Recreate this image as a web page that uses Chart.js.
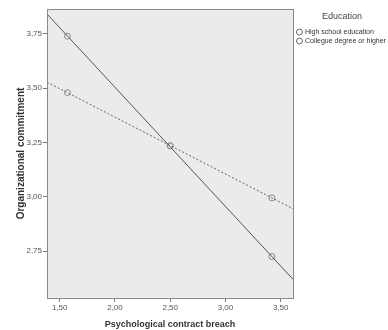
<!DOCTYPE html>
<html>
<head>
<meta charset="utf-8">
<script src="https://cdn.jsdelivr.net/npm/chart.js@4.4.0/dist/chart.umd.min.js"></script>
<style>
  html, body { margin: 0; padding: 0; background: #fff; }
  #wrap { width: 388px; height: 330px; }
</style>
</head>
<body>
<div id="wrap"><canvas id="myChart" width="388" height="330"></canvas></div>
<script>
// values
const groups = ['High school education', 'Collegue degree or higher'];
const markerX = [1.57, 2.50, 3.42];
const highSchool = [3.74, 3.235, 2.725];
const college = [3.48, 3.235, 2.995];
// fit line ends at the plot edges
const lineX = [1.385, 3.611];
const highSchoolLine = [3.842, 2.62];
const collegeLine = [3.528, 2.945];
const xTicks = [1.5, 2.0, 2.5, 3.0, 3.5];
const yTicks = [2.75, 3.0, 3.25, 3.5, 3.75];

function pts(xs, ys) {
    return xs.map((x, i) => ({ x: x, y: ys[i] }));
}

function fmt(v) {
    return v.toFixed(2).replace('.', ',');
}

// grey plot background, frame and the legend on the right
const plotFrame = {
    id: 'plotFrame',
    beforeDraw(chart) {
        const a = chart.chartArea;
        const ctx = chart.ctx;
        ctx.save();
        ctx.fillStyle = '#ebebeb';
        ctx.fillRect(a.left, a.top, a.right - a.left, a.bottom - a.top);
        ctx.restore();
    },
    afterDraw(chart) {
        const a = chart.chartArea;
        const ctx = chart.ctx;
        ctx.save();
        ctx.strokeStyle = '#8a8a8a';
        ctx.lineWidth = 1;
        ctx.strokeRect(Math.round(a.left) + 0.5, Math.round(a.top) + 0.5,
            Math.round(a.right - a.left), Math.round(a.bottom - a.top));

        ctx.fillStyle = '#444';
        ctx.font = '9px "Liberation Sans", Arial, sans-serif';
        ctx.textAlign = 'center';
        ctx.textBaseline = 'middle';
        ctx.fillText('Education', 342, 17);
        ctx.font = '7px "Liberation Sans", Arial, sans-serif';
        ctx.textAlign = 'left';
        groups.forEach((g, i) => {
            const y = 32 + i * 9;
            ctx.beginPath();
            ctx.arc(299.5, y, 3, 0, Math.PI * 2);
            ctx.fillStyle = '#fff';
            ctx.fill();
            ctx.strokeStyle = '#666';
            ctx.stroke();
            ctx.fillStyle = '#333';
            ctx.fillText(g, 305, y);
        });
        ctx.restore();
    }
};

const ctx = document.getElementById('myChart').getContext('2d');
const myChart = new Chart(ctx, {
    type: 'scatter',
    data: {
        datasets: [{
            label: groups[0] + ' line',
            data: pts(lineX, highSchoolLine),
            showLine: true,
            borderColor: '#555',
            borderWidth: 1,
            pointRadius: 0
        }, {
            label: groups[1] + ' line',
            data: pts(lineX, collegeLine),
            showLine: true,
            borderColor: '#666',
            borderWidth: 1,
            borderDash: [2, 2],
            pointRadius: 0
        }, {
            label: groups[0],
            data: pts(markerX, highSchool),
            pointRadius: 3,
            pointBackgroundColor: 'rgba(235,235,235,0.6)',
            pointBorderColor: '#888',
            pointBorderWidth: 1
        }, {
            label: groups[1],
            data: pts(markerX, college),
            pointRadius: 3,
            pointBackgroundColor: 'rgba(235,235,235,0.6)',
            pointBorderColor: '#888',
            pointBorderWidth: 1
        }]
    },
    options: {
        responsive: false,
        animation: false,
        layout: { padding: { top: 9, right: 95, left: 15, bottom: 0 } },
        plugins: {
            legend: { display: false },
            tooltip: { enabled: false }
        },
        scales: {
            x: {
                type: 'linear',
                min: lineX[0],
                max: lineX[1],
                afterBuildTicks(scale) {
                    scale.ticks = xTicks.map(v => ({ value: v }));
                },
                afterFit(scale) { scale.height = 32; },
                grid: { drawOnChartArea: false, tickLength: 4, color: '#777' },
                border: { color: '#8a8a8a' },
                ticks: {
                    color: '#555',
                    padding: 1,
                    font: { size: 8, family: '"Liberation Sans", Arial, sans-serif' },
                    callback: v => fmt(v)
                },
                title: {
                    display: true,
                    text: 'Psychological contract breach',
                    color: '#333',
                    padding: { top: 5, bottom: 0 },
                    font: { size: 9, weight: 'bold', family: '"Liberation Sans", Arial, sans-serif' }
                }
            },
            y: {
                type: 'linear',
                min: 2.534,
                max: 3.865,
                afterBuildTicks(scale) {
                    scale.ticks = yTicks.map(v => ({ value: v }));
                },
                afterFit(scale) { scale.width = 32; },
                grid: { drawOnChartArea: false, tickLength: 4, color: '#777' },
                border: { color: '#8a8a8a' },
                ticks: {
                    color: '#555',
                    padding: 1,
                    font: { size: 8, family: '"Liberation Sans", Arial, sans-serif' },
                    callback: v => fmt(v)
                },
                title: {
                    display: true,
                    text: 'Organizational commitment',
                    color: '#333',
                    padding: { top: 0, bottom: 4 },
                    font: { size: 10, weight: 'bold', family: '"Liberation Sans", Arial, sans-serif' }
                }
            }
        }
    },
    plugins: [plotFrame]
});
</script>
</body>
</html>
